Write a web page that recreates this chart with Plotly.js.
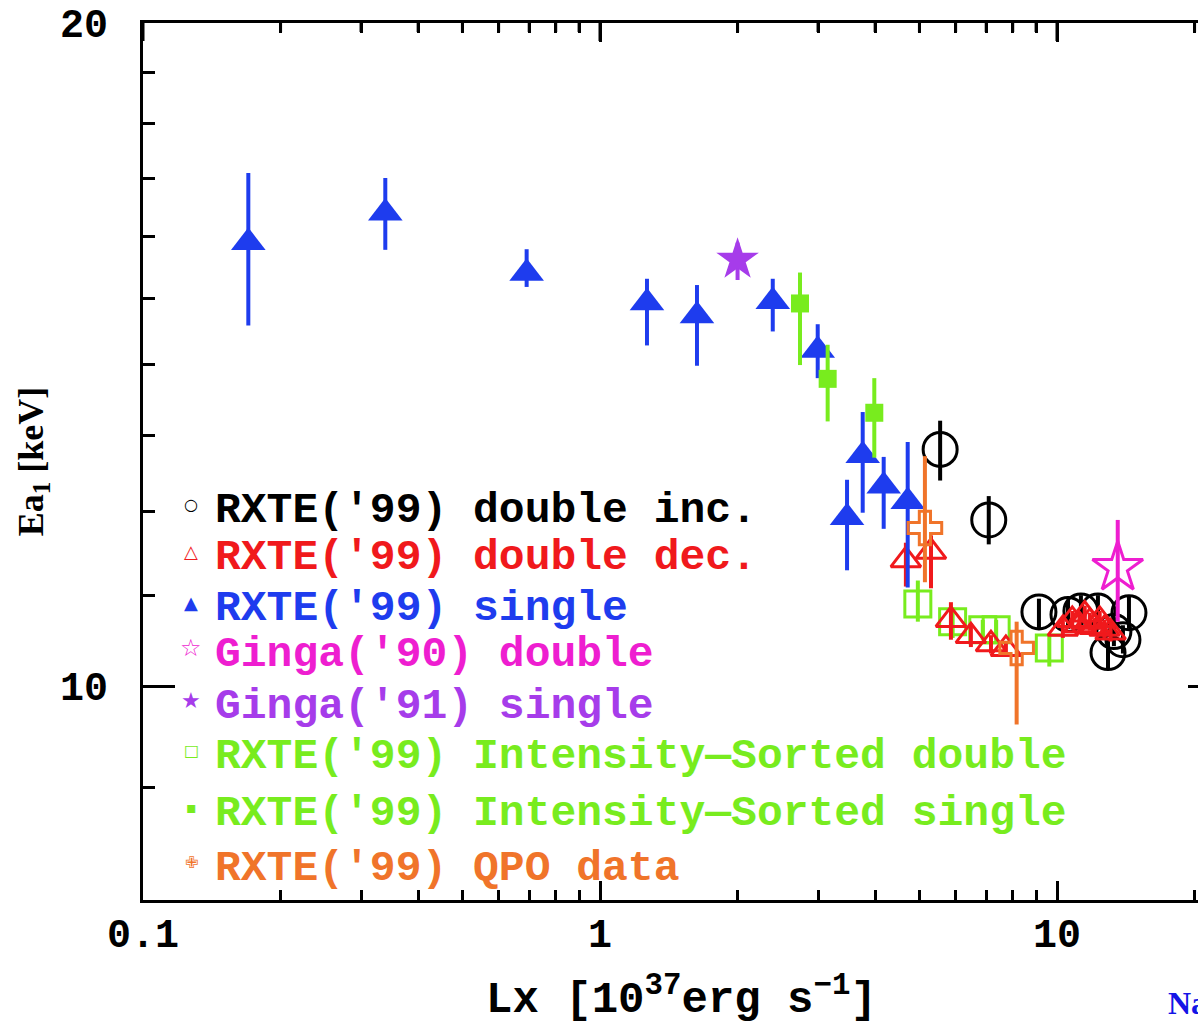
<!DOCTYPE html>
<html><head><meta charset="utf-8">
<script src="https://cdn.plot.ly/plotly-3.0.1.min.js"></script>
<style>html,body{margin:0;padding:0;overflow:hidden;background:#fff}#chart{width:1240px;height:1025px}</style>
</head><body><div id="chart"></div><script>
// ---------------- data ----------------
const seriesNames = ["RXTE('99) double inc.", "RXTE('99) double dec.", "RXTE('99) single",
  "Ginga('90) double", "Ginga('91) single", "RXTE('99) Intensity\u2014Sorted double",
  "RXTE('99) Intensity\u2014Sorted single", "RXTE('99) QPO data"];

// RXTE('99) double inc. (open circles)
const incX  = [5.55, 7.09, 9.13, 10.57, 11.28, 12.29, 14.37, 13.94, 12.93, 13.32];
const incY  = [12.81, 11.90, 10.81, 10.78, 10.82, 10.82, 10.80, 10.50, 10.36, 10.59];
const incHi = [13.20, 12.20, 10.96, 10.95, 11.00, 11.00, 10.98, 10.66, 10.52, 10.75];
const incLo = [12.40, 11.60, 10.63, 10.62, 10.66, 10.66, 10.62, 10.35, 10.18, 10.43];

// RXTE('99) double dec. (open triangles)
const decX  = [4.67, 5.30, 5.86, 6.48, 7.17, 7.73, 10.3, 10.8, 11.2, 11.5, 11.8, 12.1, 12.4, 12.7, 13.1];
const decY  = [11.41, 11.51, 10.72, 10.54, 10.45, 10.40, 10.62, 10.72, 10.66, 10.78, 10.70, 10.64, 10.72, 10.62, 10.58];
const decHi = [11.62, 11.71, 10.92, 10.68, 10.55, 10.48, 10.72, 10.82, 10.76, 10.88, 10.80, 10.74, 10.82, 10.72, 10.68];
const decLo = [11.10, 11.08, 10.50, 10.42, 10.35, 10.32, 10.52, 10.62, 10.56, 10.68, 10.60, 10.54, 10.62, 10.52, 10.48];

// RXTE('99) single (filled triangles)
const sglX  = [0.170, 0.339, 0.691, 1.267, 1.630, 2.388, 2.995, 3.757, 4.176, 3.472, 4.713];
const sglY  = [15.90, 16.40, 15.40, 14.93, 14.73, 14.95, 14.21, 12.73, 12.33, 11.93, 12.13];
const sglHi = [17.10, 17.01, 15.79, 15.31, 15.21, 15.31, 14.60, 13.32, 12.71, 12.41, 12.91];
const sglLo = [14.58, 15.78, 15.18, 14.28, 13.98, 14.49, 13.80, 11.99, 11.79, 11.29, 11.09];

// Ginga('90) double (open star)
const g90X  = [13.58];
const g90Y  = [11.32];
const g90Hi = [11.90];
const g90Lo = [10.70];

// Ginga('91) single (filled star)
const g91X  = [2.00];
const g91Y  = [15.62];
const g91Hi = [15.90];
const g91Lo = [15.29];

// RXTE('99) Intensity-Sorted double (open squares)
const isdX  = [4.96, 5.91, 6.88, 7.36, 9.62];
const isdY  = [10.90, 10.70, 10.61, 10.61, 10.41];
const isdHi = [11.17, 10.86, 10.72, 10.72, 10.56];
const isdLo = [10.70, 10.52, 10.50, 10.50, 10.21];

// RXTE('99) Intensity-Sorted single (filled squares)
const issX  = [2.739, 3.149, 3.983];
const issY  = [14.92, 13.79, 13.31];
const issHi = [15.41, 14.29, 13.80];
const issLo = [13.99, 13.19, 12.70];

// RXTE('99) QPO data (open crosses)
const qpoX  = [5.14, 8.16];
const qpoY  = [11.80, 10.41];
const qpoHi = [12.72, 10.70];
const qpoLo = [11.15, 9.61];

// tick labels
const xMajor = [0.1, 1, 10];
const xMajorText = ["0.1", "1", "10"];
const xMinor = [0.2,0.3,0.4,0.5,0.6,0.7,0.8,0.9,2,3,4,5,6,7,8,9,20];
const yMajor = [10, 20];
const yMajorText = ["10", "20"];
const yMinor = [8,9,11,12,13,14,15,16,17,18,19];
const yMin = 8, yMax = 20;

// ---------------- styles ----------------
const C = {black:'#000000', red:'#F0191C', blue:'#1E3CEE', magenta:'#EE1ED0',
           purple:'#A63CEA', green:'#78EC1E', orange:'#F0742A'};

function trace(x, y, hi, lo, color, symbol, size, lw) {
  return {
    type: 'scatter', mode: 'markers', x: x, y: y, showlegend: false, hoverinfo: 'x+y',
    marker: {symbol: symbol, size: size, color: color, line: {color: color, width: lw}},
    error_y: {type: 'data', symmetric: false,
      array: hi.map((h, i) => h - y[i]), arrayminus: lo.map((l, i) => y[i] - l),
      color: color, thickness: 4, width: 0}
  };
}

const plotLeft = 143, plotRight = 1220, plotTop = 23, plotBottom = 900;
const pw = plotRight - plotLeft, ph = plotBottom - plotTop;
const pxPerDecadeY = ph / Math.log10(yMax / yMin);

// mirrored tick marks along the top axis, hung from the top of the y range
const topTickVals = xMajor.concat(xMinor);
const topTickLenPx = topTickVals.map(v => xMajor.includes(v) ? 18 : 9);
const topTicks = {
  type: 'scatter', mode: 'markers', x: topTickVals, y: topTickVals.map(() => yMax),
  showlegend: false, hoverinfo: 'skip', cliponaxis: false,
  marker: {size: 1, color: 'rgba(0,0,0,0)'},
  error_y: {type: 'data', symmetric: false, array: topTickVals.map(() => 0),
    arrayminus: topTickLenPx.map(L => yMax * (1 - Math.pow(10, -L / pxPerDecadeY))),
    color: '#000', thickness: 3, width: 0}
};

const data = [
  trace(isdX, isdY, isdHi, isdLo, C.green, 'square-open', 26, 3),
  trace(incX, incY, incHi, incLo, C.black, 'circle-open', 34, 3),
  trace(decX, decY, decHi, decLo, C.red, 'triangle-up-open', 26, 3),
  trace(sglX, sglY, sglHi, sglLo, C.blue, 'triangle-up', 30, 0),
  trace(issX, issY, issHi, issLo, C.green, 'square', 18, 0),
  trace(g91X, g91Y, g91Hi, g91Lo, C.purple, 'star', 32, 0),
  trace(g90X, g90Y, g90Hi, g90Lo, C.magenta, 'star-open', 38, 3),
  trace(qpoX, qpoY, qpoHi, qpoLo, C.orange, 'cross-open', 28, 3),
  topTicks
];

// legend built from annotations
const legColors = [C.black, C.red, C.blue, C.magenta, C.purple, C.green, C.green, C.orange];
const legGlyphs = ['\u25CB', '\u25B3', '\u25B2', '\u2606', '\u2605', '\u25A1', '\u25AA', '\u2719'];
const glyphSizes = [16, 18, 18, 24, 22, 16, 16, 16];
const rowPx = [510, 557, 608, 654, 706, 756, 813, 868];
const annotations = [];
seriesNames.forEach((n, i) => {
  annotations.push({xref: 'paper', yref: 'paper', x: (191 - plotLeft) / pw, y: (plotBottom - rowPx[i] + 6) / ph,
    xanchor: 'center', yanchor: 'middle', showarrow: false, text: legGlyphs[i],
    font: {family: 'DejaVu Sans', size: glyphSizes[i], color: legColors[i]}});
  annotations.push({xref: 'paper', yref: 'paper', x: (213 - plotLeft) / pw, y: (plotBottom - rowPx[i]) / ph,
    xanchor: 'left', yanchor: 'middle', showarrow: false, text: '<b>' + n + '</b>',
    font: {family: 'Liberation Mono', size: 43, color: legColors[i]}});
});
annotations.push({xref: 'paper', yref: 'paper', x: (1166 - plotLeft) / pw, y: (plotBottom - 1003) / ph,
  xanchor: 'left', yanchor: 'middle', showarrow: false, text: '<b>Na</b>',
  font: {family: 'Liberation Serif', size: 32, color: '#1414E6'}});

const axisCommon = {type: 'log', showgrid: false, zeroline: false, showline: true, linewidth: 3,
  linecolor: '#000', mirror: 'ticks', ticks: 'inside', tickwidth: 3, tickcolor: '#000',
  tickmode: 'array', automargin: false,
  tickfont: {family: 'Liberation Mono', size: 40, color: '#000', weight: 'bold'}};

const layout = {
  width: 1240, height: 1025,
  margin: {l: plotLeft, r: 1240 - plotRight, t: plotTop, b: 1025 - plotBottom},
  paper_bgcolor: '#fff', plot_bgcolor: '#fff', showlegend: false,
  xaxis: Object.assign({}, axisCommon, {
    range: [-1, Math.log10(0.1) + (plotRight - plotLeft) / 457],
    tickvals: xMajor, ticktext: xMajorText, ticklen: 19, ticklabelstandoff: -4,
    minor: {tickvals: xMinor, ticks: 'inside', ticklen: 10, tickwidth: 3, tickcolor: '#000'},
    title: {text: '<b>Lx [10<sup>37</sup>erg s<sup>\u22121</sup>]</b>', standoff: 31,
      font: {family: 'Liberation Mono', size: 44, color: '#000'}}
  }),
  yaxis: Object.assign({}, axisCommon, {
    range: [Math.log10(yMin), Math.log10(yMax)],
    tickvals: yMajor, ticktext: yMajorText, ticklen: 32, ticklabelstandoff: 24,
    minor: {tickvals: yMinor, ticks: 'inside', ticklen: 12, tickwidth: 3, tickcolor: '#000'},
    title: {text: '<b>Ea<sub>1</sub> [keV]</b>', standoff: 6,
      font: {family: 'Liberation Serif', size: 36, color: '#000'}}
  }),
  annotations: annotations
};

Plotly.newPlot('chart', data, layout, {displayModeBar: false, staticPlot: true});
</script></body></html>
